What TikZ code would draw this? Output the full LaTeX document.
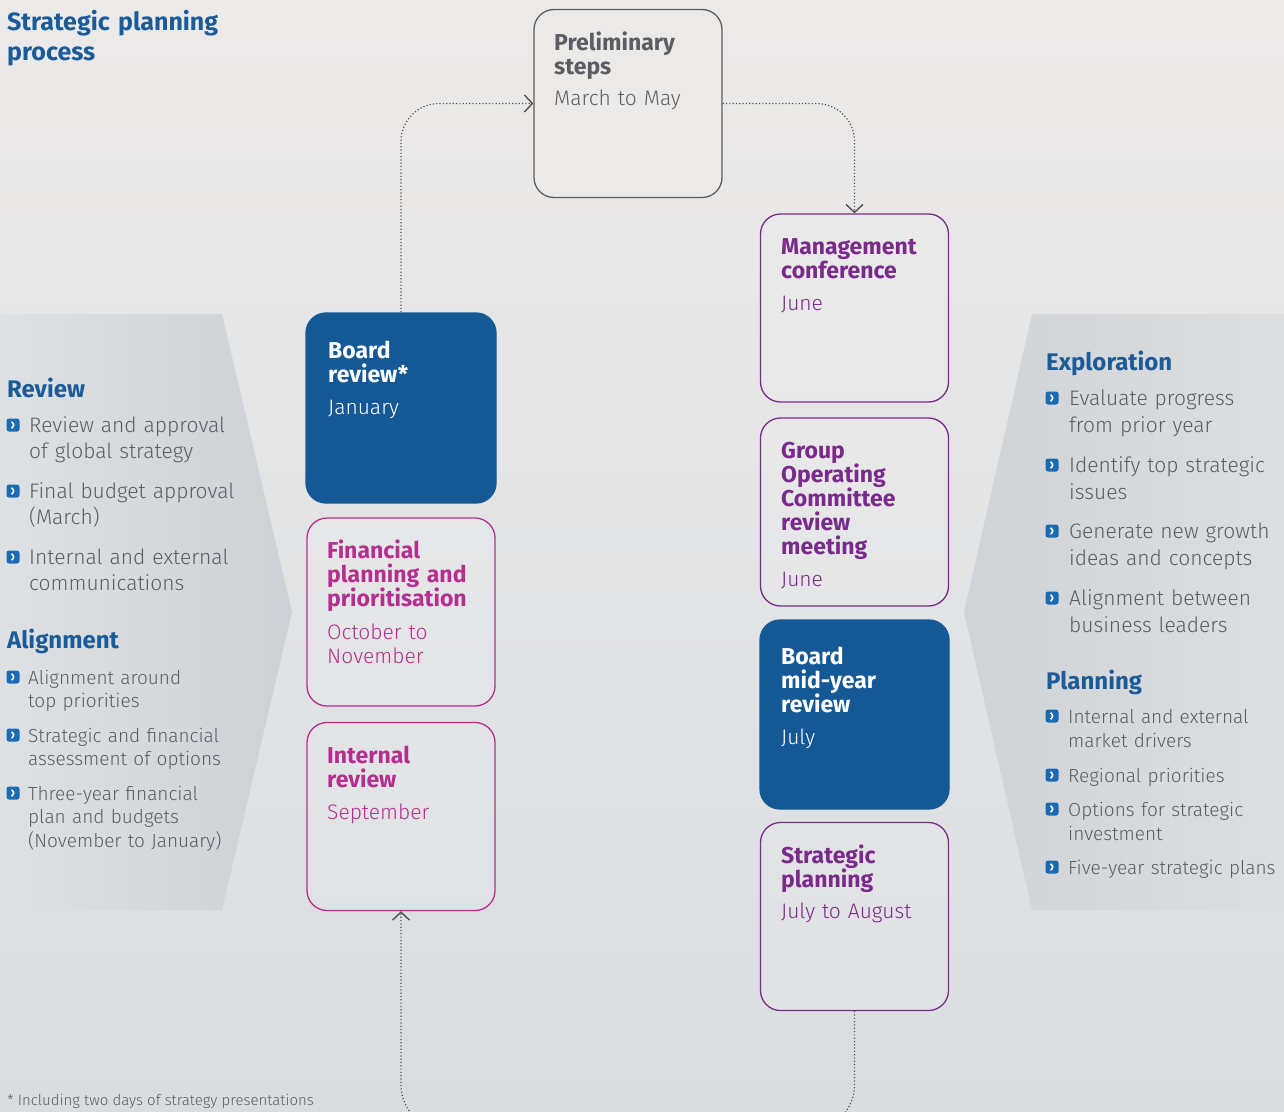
\documentclass[tikz,border=0pt]{standalone}
\usepackage{fontspec}
\setmainfont{Fira Sans}
\newfontfamily\lightfont{Fira Sans Light}
\usetikzlibrary{arrows.meta}
\definecolor{bgtop}{HTML}{ECEAE9}
\definecolor{bgbot}{HTML}{DADDE0}
\definecolor{panA}{HTML}{DEE1E4}
\definecolor{panB}{HTML}{CDD1D5}
\definecolor{panC}{HTML}{D0D3D7}
\definecolor{panD}{HTML}{DDDEDF}
\definecolor{tblue}{HTML}{1B5B97}
\definecolor{boxblue}{HTML}{155896}
\definecolor{iconblue}{HTML}{1A6BB3}
\definecolor{purp}{HTML}{7A2A8A}
\definecolor{mag}{HTML}{B42F8F}
\definecolor{greytxt}{HTML}{595E65}
\definecolor{prelim}{HTML}{5A5E63}
\definecolor{conncol}{HTML}{4F5256}
\tikzset{
  stepbox/.style={rectangle, rounded corners=20pt, line width=1.3pt, minimum width=188pt, minimum height=188pt, inner sep=0},
  htext/.style={anchor=base west, inner sep=0, text width=180pt, align=left, font=\bfseries\fontsize{23}{24}\selectfont},
  mtext/.style={anchor=base west, inner sep=0, text width=180pt, align=left, font=\lightfont\fontsize{21}{24}\selectfont},
  sechead/.style={anchor=base west, inner sep=0, text width=250pt, align=left, font=\bfseries\fontsize{24}{26}\selectfont, text=tblue},
  btextA/.style={anchor=base west, inner sep=0, text width=260pt, align=left, font=\lightfont\fontsize{21}{26}\selectfont, text=greytxt},
  btextB/.style={anchor=base west, inner sep=0, text width=260pt, align=left, font=\lightfont\fontsize{19}{23.5}\selectfont, text=greytxt},
  btextC/.style={anchor=base west, inner sep=0, text width=260pt, align=left, font=\lightfont\fontsize{21}{27}\selectfont, text=greytxt},
  btextD/.style={anchor=base west, inner sep=0, text width=260pt, align=left, font=\lightfont\fontsize{19}{24}\selectfont, text=greytxt},
  bul/.style={rectangle, rounded corners=2.5pt, fill=iconblue, minimum width=13pt, minimum height=13pt, inner sep=0,
    path picture={\draw[white, line width=1.6pt] ([xshift=-1.5pt,yshift=3.2pt]path picture bounding box.center) -- ++(3.2pt,-3.2pt) -- ++(-3.2pt,-3.2pt);}},
  conn/.style={draw=conncol, line width=1.2pt, dash pattern=on 1.2pt off 2.1pt},
  tipc/.style={-{Straight Barb[length=8pt,width=17pt,line width=1.4pt]}}
}
\begin{document}
\begin{tikzpicture}[x=1pt,y=-1pt]
\useasboundingbox (0,0) rectangle (1284,1111);
\clip (0,0) rectangle (1284,1111);
\shade[top color=bgtop, bottom color=bgbot] (0,0) rectangle (1284,1111);
% side panels
\shade[left color=panA, right color=panB] (0,314) -- (222,314) -- (292,612) -- (222,910) -- (0,910) -- cycle;
\shade[left color=panC, right color=panD] (1032,314) -- (1284,314) -- (1284,910) -- (1032,910) -- (964,612) -- cycle;

% title
\node[anchor=base west, inner sep=0, text width=300pt, align=left, font=\bfseries\fontsize{25}{30}\selectfont, text=tblue] (title) at (7,30) {Strategic planning\\process};

% boxes
\node[stepbox, draw=prelim, fill=bgtop] (pr) at (628,103.5) {};
\node[stepbox, draw=boxblue, fill=boxblue, minimum width=190pt, minimum height=190pt] (br) at (401,408) {};
\node[stepbox, draw=mag, fill=white, fill opacity=0.12] (fp) at (401,612) {};
\node[stepbox, draw=mag, fill=white, fill opacity=0.12] (ir) at (401,816.5) {};
\node[stepbox, draw=purp, fill=white, fill opacity=0.12] (mc) at (854.5,308) {};
\node[stepbox, draw=purp, fill=white, fill opacity=0.12] (goc) at (854.5,512) {};
\node[stepbox, draw=boxblue, fill=boxblue, minimum width=189pt, minimum height=189pt] (bm) at (854.5,714.5) {};
\node[stepbox, draw=purp, fill=white, fill opacity=0.12] (sp) at (854.5,916.5) {};

% box texts
\node[htext, text=prelim] (prh) at (554,50) {Preliminary\\steps};
\node[mtext, text=prelim] (prm) at (554,105) {March to May};
\node[htext, text=white] (brh) at (328,358) {Board\\review*};
\node[mtext, text=white] (brm) at (328,414) {January};
\node[htext, text=mag] (fph) at (327,558) {Financial\\planning and\\prioritisation};
\node[mtext, text=mag] (fpm) at (327,639) {October to\\November};
\node[htext, text=mag] (irh) at (327,763) {Internal\\review};
\node[mtext, text=mag] (irm) at (327,819) {September};
\node[htext, text=purp] (mch) at (781,254) {Management\\conference};
\node[mtext, text=purp] (mcm) at (781,310) {June};
\node[htext, text=purp] (goch) at (781,458) {Group\\Operating\\Committee\\review\\meeting};
\node[mtext, text=purp] (gocm) at (781,586) {June};
\node[htext, text=white] (bmh) at (781,664) {Board\\mid-year\\review};
\node[mtext, text=white] (bmm) at (781,744) {July};
\node[htext, text=purp] (sph) at (781,863) {Strategic\\planning};
\node[mtext, text=purp] (spm) at (781,918) {July to August};

% connectors
\draw[conn, tipc, rounded corners=38pt] (br.north) |- (pr.west);
\draw[conn, tipc, rounded corners=38pt] (pr.east) -| (mc.north);
\coordinate (loop) at (628,1130);
\draw[conn, tipc, rounded corners=45pt] (sp.south) |- (loop) -| (ir.south);

% left panel
\node[sechead] (rev) at (7,397) {Review};
\node[bul] (rb1) at (13,425) {};
\node[btextA] (rt1) at (29,432) {Review and approval\\of global strategy};
\node[bul] (rb2) at (13,491) {};
\node[btextA] (rt2) at (29,498) {Final budget approval\\(March)};
\node[bul] (rb3) at (13,557) {};
\node[btextA] (rt3) at (29,564) {Internal and external\\communications};

\node[sechead] (ali) at (7,648) {Alignment};
\node[bul] (ab1) at (13,677) {};
\node[btextB] (at1) at (28,684) {Alignment around\\top priorities};
\node[bul] (ab2) at (13,735) {};
\node[btextB] (at2) at (28,742) {Strategic and financial\\assessment of options};
\node[bul] (ab3) at (13,793) {};
\node[btextB] (at3) at (28,800) {Three-year financial\\plan and budgets\\(November to January)};

% right panel
\node[sechead] (exp) at (1046,370) {Exploration};
\node[bul] (eb1) at (1052,398) {};
\node[btextC] (et1) at (1069,405) {Evaluate progress\\from prior year};
\node[bul] (eb2) at (1052,465) {};
\node[btextC] (et2) at (1069,472) {Identify top strategic\\issues};
\node[bul] (eb3) at (1052,531) {};
\node[btextC] (et3) at (1069,538) {Generate new growth\\ideas and concepts};
\node[bul] (eb4) at (1052,598) {};
\node[btextC] (et4) at (1069,605) {Alignment between\\business leaders};

\node[sechead] (pla) at (1046,689) {Planning};
\node[bul] (pb1) at (1052,716) {};
\node[btextD] (pt1) at (1068,723) {Internal and external\\market drivers};
\node[bul] (pb2) at (1052,775) {};
\node[btextD] (pt2) at (1068,782) {Regional priorities};
\node[bul] (pb3) at (1052,809) {};
\node[btextD] (pt3) at (1068,816) {Options for strategic\\investment};
\node[bul] (pb4) at (1052,867) {};
\node[btextD] (pt4) at (1068,874) {Five-year strategic plans};

% footnote
\node[anchor=base west, inner sep=0, font=\lightfont\fontsize{15}{17}\selectfont, text=greytxt] (fn) at (7,1105) {* Including two days of strategy presentations};
\end{tikzpicture}
\end{document}
